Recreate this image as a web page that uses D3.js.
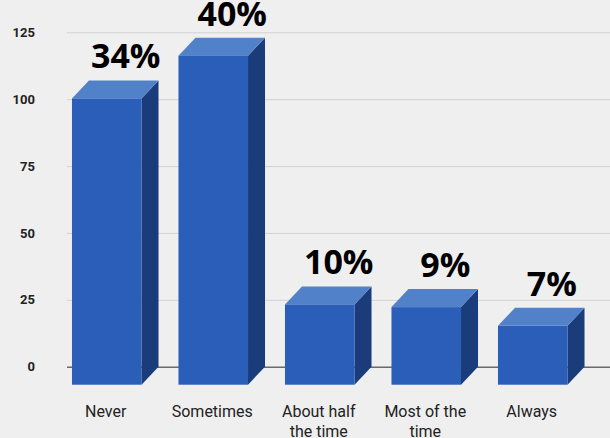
<!DOCTYPE html>
<html>
<head>
<meta charset="utf-8">
<script src="https://cdn.jsdelivr.net/npm/d3@7/dist/d3.min.js"></script>
<style>
  html, body { margin: 0; padding: 0; background: #efefef; }
  svg { display: block; }
</style>
</head>
<body>
<svg id="chart" width="610" height="438"></svg>
<script>
// Survey responses: how often respondents answered each way (counts)
const categories = ["Never", "Sometimes", "About half the time", "Most of the time", "Always"];
const counts = [107, 123, 30, 29, 22];
const yTicks = [0, 25, 50, 75, 100, 125];

const W = 610, H = 438;
const depthX = 17, depthY = 18;          // 3D extrusion offset of each bar
const gridLeft = 67;

const colors = {
  front: "#2a5eb9",
  top: "#5181c9",
  side: "#1b3c7b",
  grid: "#d2d2d2",
  zero: "#6a6a6a",
  text: "#222222"
};

const svg = d3.select("#chart");

const y = d3.scaleLinear().domain([0, 125]).range([366.7, 32.3]);
const x = d3.scaleBand()
  .domain(categories)
  .range([53.5, 586])
  .paddingInner(0.347)
  .paddingOuter(0.1735);

const total = d3.sum(counts);
const data = categories.map((c, i) => ({
  cat: c,
  value: counts[i],
  pct: Math.round(counts[i] / total * 100) + "%"
}));

// Gridlines and y tick labels
const yAxis = d3.axisLeft(y)
  .tickValues(yTicks)
  .tickSize(-(W - gridLeft))
  .tickPadding(32)
  .tickFormat(d3.format("d"));

const gAxis = svg.append("g")
  .attr("transform", `translate(${gridLeft},0)`)
  .call(yAxis);
gAxis.select(".domain").remove();
gAxis.selectAll(".tick line")
  .attr("stroke", d => d === 0 ? colors.zero : colors.grid)
  .attr("stroke-width", d => d === 0 ? 1.5 : 1);
gAxis.selectAll(".tick text")
  .attr("fill", colors.text)
  .style("font-family", "Roboto, 'Noto Sans', sans-serif")
  .style("font-weight", "700")
  .style("font-size", "13px");

// 3D bars: the back face stands on the zero plane, the front face is pushed toward the viewer
const bars = svg.append("g").selectAll("g.bar")
  .data(data)
  .join("g")
  .attr("class", "bar");

bars.each(function (d) {
  const g = d3.select(this);
  const x0 = x(d.cat);
  const bw = x.bandwidth();
  const yTop = y(d.value);
  const yBase = y(0);

  // side face
  g.append("path")
    .attr("d", d3.line()([
      [x0 + bw, yTop + depthY],
      [x0 + bw + depthX, yTop],
      [x0 + bw + depthX, yBase],
      [x0 + bw, yBase + depthY]
    ]) + "Z")
    .attr("fill", colors.side);

  // top face
  g.append("path")
    .attr("d", d3.line()([
      [x0, yTop + depthY],
      [x0 + depthX, yTop],
      [x0 + bw + depthX, yTop],
      [x0 + bw, yTop + depthY]
    ]) + "Z")
    .attr("fill", colors.top);

  // front face
  g.append("rect")
    .attr("x", x0)
    .attr("y", yTop + depthY)
    .attr("width", bw)
    .attr("height", yBase - yTop)
    .attr("fill", colors.front);
});

// Percentage labels above each bar
svg.append("g").selectAll("text")
  .data(data)
  .join("text")
  .attr("x", d => x(d.cat) + x.bandwidth() / 2 + depthX + 2)
  .attr("y", d => y(d.value) - 12)
  .attr("text-anchor", "middle")
  .attr("fill", "#000")
  .style("font-family", "'Open Sans', 'Noto Sans', sans-serif")
  .style("font-weight", "700")
  .style("font-size", "34px")
  .text(d => d.pct);

// Category labels, wrapped to the bar spacing
const catLabels = svg.append("g").selectAll("text")
  .data(data)
  .join("text")
  .attr("x", d => x(d.cat) + x.bandwidth() / 2 - 1)
  .attr("y", 417.3)
  .attr("text-anchor", "middle")
  .attr("fill", colors.text)
  .style("font-family", "Roboto, 'Noto Sans', sans-serif")
  .style("font-size", "16px");

catLabels.each(function (d) {
  const text = d3.select(this);
  const words = d.cat.split(" ");
  const maxW = 95;
  let lines = [];
  let line = [];
  const probe = text.append("tspan");
  words.forEach(w => {
    line.push(w);
    probe.text(line.join(" "));
    if (probe.node().getComputedTextLength() > maxW && line.length > 1) {
      line.pop();
      lines.push(line.join(" "));
      line = [w];
    }
  });
  lines.push(line.join(" "));
  probe.remove();
  const xc = text.attr("x");
  lines.forEach((l, i) => {
    text.append("tspan")
      .attr("x", xc)
      .attr("dy", i === 0 ? 0 : 19.5)
      .text(l);
  });
});
</script>
</body>
</html>
